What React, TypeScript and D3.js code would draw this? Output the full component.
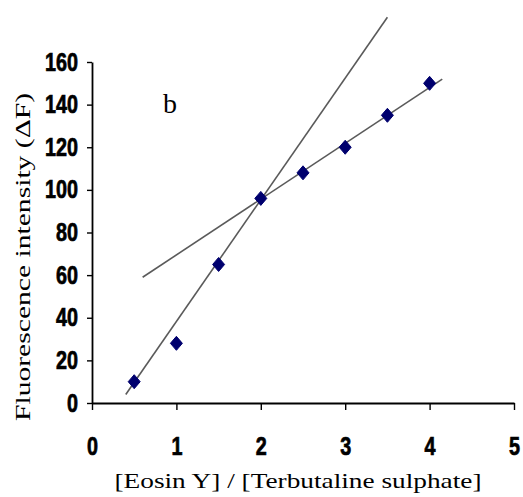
import React, { useRef, useEffect } from 'react'
import * as d3 from 'd3'

// measured points
const ratios = [0.5, 1, 1.5, 2, 2.5, 3, 3.5, 4]
const intensity = [10, 28, 65, 96, 108, 120, 135, 150]

// the two fitted lines (end points)
const steepX = [0.4, 3.5]
const steepY = [4, 181]
const shallowX = [0.6, 4.15]
const shallowY = [59, 152]

const xTicks = [0, 1, 2, 3, 4, 5]
const yTicks = [0, 20, 40, 60, 80, 100, 120, 140, 160]

const tickFont = "'Liberation Sans', Arial, sans-serif"
const serifFont = "'Liberation Serif', 'DejaVu Serif', serif"

const App: React.FC = () => {
  const svgRef = useRef<SVGSVGElement | null>(null)

  useEffect(() => {
    const svg = d3.select(svgRef.current)
    svg.selectAll('*').remove()

    const width = 523
    const height = 497
    const margin = { top: 62, right: 9, bottom: 94, left: 92 }

    svg.attr('width', width).attr('height', height)

    const x = d3.scaleLinear().domain([0, 5]).range([margin.left, width - margin.right])
    const y = d3.scaleLinear().domain([0, 160]).range([height - margin.bottom, margin.top])

    // fitted lines
    const drawLine = (xs: number[], ys: number[]) => {
      svg
        .append('path')
        .attr('d', d3.line<number>().x((d) => x(d)).y((_, i) => y(ys[i]))(xs))
        .attr('fill', 'none')
        .attr('stroke', '#5a5a5a')
        .attr('stroke-width', 1.6)
    }
    drawLine(steepX, steepY)
    drawLine(shallowX, shallowY)

    // diamond markers
    const diamond = (cx: number, cy: number) =>
      `M${cx},${cy - 7}L${cx + 6},${cy}L${cx},${cy + 7}L${cx - 6},${cy}Z`

    svg
      .append('g')
      .selectAll('path')
      .data(ratios)
      .enter()
      .append('path')
      .attr('d', (d, i) => diamond(x(d), y(intensity[i])))
      .attr('fill', '#00006e')
      .attr('stroke', '#00006e')
      .attr('stroke-linejoin', 'round')
      .attr('stroke-width', 1)

    // narrow heavy tick labels
    const styleTicks = (g: d3.Selection<SVGGElement, unknown, null, undefined>) => {
      g.select('.domain').attr('stroke-width', 1.8)
      g.selectAll('line').attr('stroke-width', 1.4)
      g.selectAll<SVGTextElement, number>('text')
        .attr('font-family', tickFont)
        .attr('font-weight', 'bold')
        .attr('font-size', 25)
        .attr('fill', '#000')
        .attr('stroke', '#000')
        .attr('stroke-width', 0.7)
        .attr('textLength', function () {
          return (this.textContent || '').length * 11
        })
        .attr('lengthAdjust', 'spacingAndGlyphs')
    }

    // x axis
    const xAxis = svg
      .append('g')
      .attr('transform', `translate(0,${y(0)})`)
      .call(d3.axisBottom(x).tickValues(xTicks).tickFormat((d) => String(d)).tickSize(7).tickSizeOuter(0).tickPadding(27))
    styleTicks(xAxis)

    // y axis
    const yAxis = svg
      .append('g')
      .attr('transform', `translate(${x(0)},0)`)
      .call(d3.axisLeft(y).tickValues(yTicks).tickSize(5).tickSizeOuter(0).tickPadding(9))
    styleTicks(yAxis)

    // panel letter
    svg
      .append('text')
      .attr('x', 170)
      .attr('y', 113)
      .attr('text-anchor', 'middle')
      .attr('font-family', serifFont)
      .attr('font-size', 28)
      .text('b')

    // axis titles
    svg
      .append('text')
      .attr('x', 298)
      .attr('y', 488)
      .attr('text-anchor', 'middle')
      .attr('font-family', serifFont)
      .attr('font-size', 22)
      .attr('textLength', 367)
      .attr('lengthAdjust', 'spacingAndGlyphs')
      .text('[Eosin Y] / [Terbutaline sulphate]')

    svg
      .append('text')
      .attr('transform', 'translate(30,257) rotate(-90)')
      .attr('text-anchor', 'middle')
      .attr('font-family', serifFont)
      .attr('font-size', 22)
      .attr('textLength', 328)
      .attr('lengthAdjust', 'spacingAndGlyphs')
      .text('Fluorescence intensity (ΔF)')
  }, [])

  return (
    <svg
      ref={svgRef}
      style={{ position: 'absolute', left: 0, top: 0, display: 'block', background: '#fff' }}
    ></svg>
  )
}

export default App
